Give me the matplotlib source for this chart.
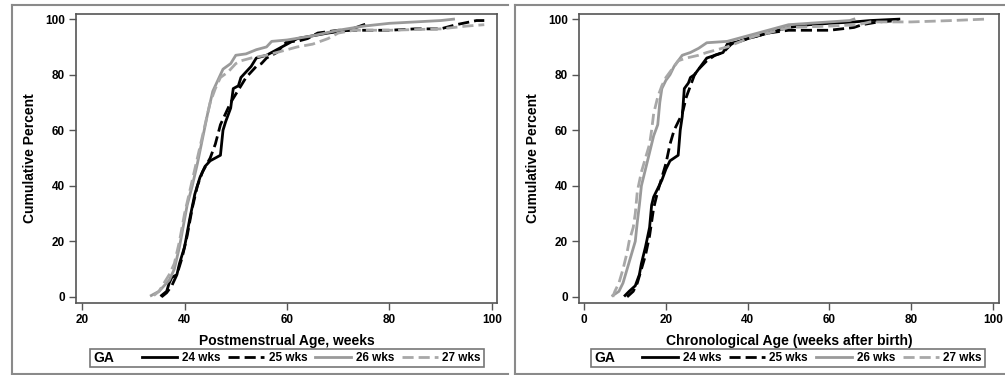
import matplotlib
matplotlib.use("Agg")
import matplotlib.pyplot as plt
import matplotlib.text as mtext
from matplotlib.lines import Line2D

plt.rcParams['font.family'] = ['Liberation Sans', 'DejaVu Sans']
plt.rcParams['font.weight'] = 'bold'

# ---- data: left panel, postmenstrual age (weeks) vs cumulative percent ----
pma_24_x = [35.5, 36.5, 37, 37.5, 38.5, 39, 40, 41, 42, 43, 44, 45, 46, 47, 47.5, 48, 49, 49.5,
            50.5, 51, 52, 53, 54, 56, 58, 60, 62, 65, 68, 72, 75]
pma_24_y = [0.5, 2, 5, 7, 8, 12, 18, 28, 37, 43, 47, 49, 50, 51, 60, 63, 68, 75,
            76, 79, 81, 83, 86, 87, 89, 91, 93, 94, 95, 96, 98]
pma_25_x = [35.5, 36.5, 37.5, 38.5, 39.5, 40.5, 41.5, 42.5, 43.5, 45, 46, 47, 48, 49, 50, 51, 52,
            53, 54, 55, 56, 58, 59, 60, 62, 64, 66, 70, 75, 80, 85, 90, 93, 97, 98.5]
pma_25_y = [0, 1.5, 4, 8, 14, 22, 32, 40, 45, 50, 55, 62, 66, 70, 73, 76, 79,
            81, 83, 84, 86, 88, 90, 92, 92, 93, 95, 96, 96, 96, 96.5, 96.5, 98, 99.5, 99.5]
pma_26_x = [33.5, 35, 36, 37, 38, 39, 40, 40.5, 41.5, 42.5, 43.5, 44.5, 45.5, 46.5, 47.5, 49, 50,
            52, 54, 56, 57, 60, 65, 70, 75, 80, 85, 90, 92.5]
pma_26_y = [0.5, 2, 4, 6, 10, 18, 28, 33, 40, 48, 57, 66, 74, 78, 82, 84, 87,
            87.5, 89, 90, 92, 92.5, 94, 96, 97.5, 98.5, 99, 99.5, 100]
pma_27_x = [34, 35, 36, 37, 38, 39, 40, 41, 42, 43, 44, 45, 46, 47, 48.5, 50, 51, 53, 56, 58,
            60, 62, 65, 68, 70, 73, 80, 90, 95, 98.5]
pma_27_y = [0.5, 2, 5, 8, 12, 20, 30, 38, 46, 54, 62, 70, 75, 79, 81, 84, 85, 86, 87, 88,
            89, 90, 91, 93, 95, 96, 96, 96.5, 97.5, 98]

# ---- data: right panel, chronological age (weeks after birth) ----
ca_24_x = [10, 11, 12.5, 13.5, 14, 15, 16, 16.5, 17, 18, 19, 20, 21, 23, 23.5, 24, 24.5, 25.5,
           26, 27, 28, 29, 30, 32, 34, 35, 38, 40, 45, 50, 55, 60, 66, 70, 77]
ca_24_y = [0.5, 2, 4, 8, 12, 18, 25, 33, 36, 39, 42, 46, 49, 51, 60, 65, 75, 77,
           79, 80, 82, 84, 86, 87, 88, 91, 92, 93, 95, 97, 98, 98.5, 99, 99.5, 100]
ca_25_x = [10.5, 12, 13, 14, 15, 16, 17, 18, 19, 20, 21, 22, 24, 25, 26, 27, 28, 30, 32, 34,
           36, 40, 45, 50, 55, 60, 66, 68, 72, 77]
ca_25_y = [0, 2, 5, 10, 15, 22, 32, 38, 43, 48, 55, 60, 66, 72, 76, 80, 82, 85, 87, 88,
           91, 93, 95, 96, 96, 96, 97, 98, 99, 99.5]
ca_26_x = [7, 8.5, 9.5, 10.5, 11.5, 12.5, 13, 13.5, 14, 15, 16, 17, 18, 18.5, 19, 20, 21, 22,
           23, 24, 26, 28, 30, 35, 40, 45, 50, 55, 60, 65, 66]
ca_26_y = [0.5, 2, 5, 10, 15, 20, 27, 33, 40, 46, 52, 58, 62, 70, 75, 78, 80, 83,
           85, 87, 88, 89.5, 91.5, 92, 94, 96, 98, 98.5, 99, 99.5, 100]
ca_27_x = [7, 7.5, 8.5, 9.5, 10.5, 11, 12, 12.5, 13, 14, 15, 16, 16.5, 17, 18, 19, 20, 21, 22,
           23, 25, 28, 30, 35, 40, 42, 45, 50, 60, 67, 70, 80, 90, 98]
ca_27_y = [0, 2, 5, 10, 16, 20, 25, 30, 38, 45, 50, 55, 60, 66, 72, 76, 79, 81, 83,
           85, 86, 87, 88, 90, 93, 94, 95, 97, 97.5, 98, 99, 99, 99.5, 100]

group_labels = ['24 wks', '25 wks', '26 wks', '27 wks']
line_colors = ['black', 'black', '#9a9a9a', '#a8a8a8']
line_styles = ['-', (0, (4, 1.8)), '-', (0, (4, 1.8))]

panels = [
    dict(rect=[0.0756, 0.192, 0.419, 0.771], xlim=(18.8, 101), xticks=[20, 40, 60, 80, 100],
         xlabel='Postmenstrual Age, weeks',
         series=[(pma_24_x, pma_24_y), (pma_25_x, pma_25_y), (pma_26_x, pma_26_y), (pma_27_x, pma_27_y)],
         leg_x=0.2856),
    dict(rect=[0.576, 0.192, 0.418, 0.771], xlim=(-1.3, 101.5), xticks=[0, 20, 40, 60, 80, 100],
         xlabel='Chronological Age (weeks after birth)',
         series=[(ca_24_x, ca_24_y), (ca_25_x, ca_25_y), (ca_26_x, ca_26_y), (ca_27_x, ca_27_y)],
         leg_x=0.784),
]


class GAHandler:
    # draws the "GA" heading in the first legend slot
    def legend_artist(self, legend, orig_handle, fontsize, handlebox):
        t = mtext.Text(-handlebox.xdescent, -handlebox.ydescent + handlebox.height / 2 - 1, 'GA',
                       va='center', ha='left', fontsize=10, fontweight='bold')
        handlebox.add_artist(t)
        return t


fig = plt.figure(figsize=(10.05, 3.75), dpi=100)

# outer panel frames
frame_kw = dict(color='#8a8a8a', lw=1.5, transform=fig.transFigure)
W, H = 1005.0, 375.0
for x0, x1 in [(12, 508), (515, 1005)]:
    fig.add_artist(Line2D([x0 / W, x0 / W], [1 - 5 / H, 1 - 374 / H], **frame_kw))
    fig.add_artist(Line2D([x0 / W, x1 / W], [1 - 5 / H, 1 - 5 / H], **frame_kw))
    fig.add_artist(Line2D([x0 / W, x1 / W], [1 - 374 / H, 1 - 374 / H], **frame_kw))

for p in panels:
    ax = fig.add_axes(p['rect'])
    handles = []
    for (xs, ys), lab, c, ls in zip(p['series'], group_labels, line_colors, line_styles):
        h, = ax.plot(xs, ys, color=c, linestyle=ls, lw=2, label=lab)
        handles.append(h)
    ax.set_xlim(*p['xlim'])
    ax.set_ylim(-2.2, 101.9)
    ax.set_xticks(p['xticks'])
    ax.set_yticks([0, 20, 40, 60, 80, 100])
    for s in ax.spines.values():
        s.set_color('#555555')
        s.set_linewidth(1.2)
    ax.tick_params(direction='out', length=5, width=1, color='#555555', labelsize=8.5, pad=3)
    for lab in ax.get_xticklabels() + ax.get_yticklabels():
        lab.set_fontweight('bold')
    ax.set_xlabel(p['xlabel'], fontsize=10, fontweight='bold', labelpad=6)
    ax.set_ylabel('Cumulative Percent', fontsize=10, fontweight='bold', labelpad=6)

    dummy = Line2D([], [])
    leg = fig.legend([dummy] + handles, [''] + group_labels, loc='center',
                     bbox_to_anchor=(p['leg_x'], 0.0453), ncol=5, fontsize=8.5,
                     handlelength=3.0, handletextpad=0.4, columnspacing=0.7,
                     borderpad=0.25, frameon=True, fancybox=False,
                     handler_map={dummy: GAHandler()})
    leg.get_frame().set_edgecolor('#555555')
    leg.get_frame().set_linewidth(1.2)

fig.savefig('out.png', dpi=100)
